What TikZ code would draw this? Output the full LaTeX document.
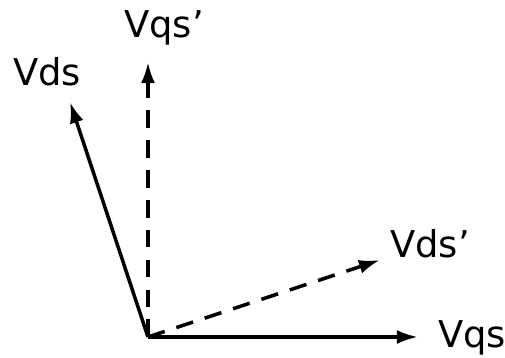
\documentclass[tikz,border=0pt]{standalone}
\usepackage{fontspec}
\setmainfont{DejaVu Sans}
\usetikzlibrary{arrows.meta}
\begin{document}
\begin{tikzpicture}[x=0.02cm, y=-0.02cm, >={Latex[length=12pt,width=8pt]},
    vec/.style={->, line width=2pt},
    dvec/.style={->, line width=2pt, dash pattern=on 10pt off 7pt},
    lbl/.style={inner sep=0pt, font=\fontsize{21}{24}\selectfont}]
    \useasboundingbox (0,0) rectangle (505,358);
    % origin and vector tips
    \coordinate (O) at (148,337);
    \coordinate (qs) at (418,337);
    \coordinate (ds) at (70,102);
    \coordinate (qsp) at (148,62);
    \coordinate (dsp) at (380,260);

    % labels
    \node[lbl] (Lqs) at (472,338) {Vqs};
    \node[lbl] (Lds) at (47,72) {Vds};
    \node[lbl] (Lqsp) at (164,28) {Vqs'};
    \node[lbl] (Ldsp) at (430,244) {Vds'};

    \draw[vec] (O) -- (qs);
    \draw[vec] (O) -- (ds);
    \draw[dvec] (O) -- (qsp);
    \draw[dvec] (O) -- (dsp);
\end{tikzpicture}
\end{document}
